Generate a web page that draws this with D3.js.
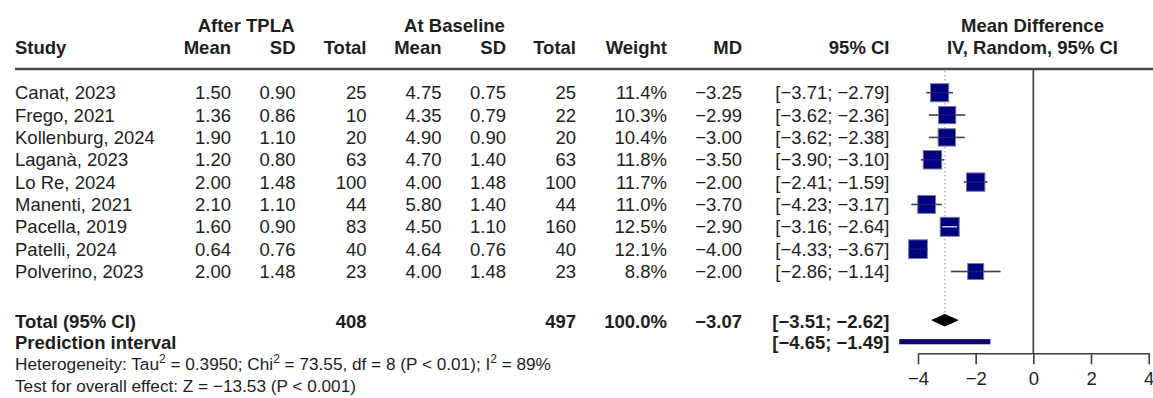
<!DOCTYPE html>
<html>
<head>
<meta charset="utf-8">
<script src="https://cdn.jsdelivr.net/npm/d3@7"></script>
<style>
  html, body { margin: 0; padding: 0; background: #fff; }
  svg { display: block; }
  text { font-family: "Liberation Sans", Arial, Helvetica, sans-serif; fill: #1e1e1e; }
</style>
</head>
<body>
<svg id="chart" width="1153" height="398"></svg>
<script>
// Study-level data
const studies = ["Canat, 2023", "Frego, 2021", "Kollenburg, 2024", "Laganà, 2023", "Lo Re, 2024",
                 "Manenti, 2021", "Pacella, 2019", "Patelli, 2024", "Polverino, 2023"];
const meanAfter = [1.50, 1.36, 1.90, 1.20, 2.00, 2.10, 1.60, 0.64, 2.00];
const sdAfter   = [0.90, 0.86, 1.10, 0.80, 1.48, 1.10, 0.90, 0.76, 1.48];
const nAfter    = [25, 10, 20, 63, 100, 44, 83, 40, 23];
const meanBase  = [4.75, 4.35, 4.90, 4.70, 4.00, 5.80, 4.50, 4.64, 4.00];
const sdBase    = [0.75, 0.79, 0.90, 1.40, 1.48, 1.40, 1.10, 0.76, 1.48];
const nBase     = [25, 22, 20, 63, 100, 44, 160, 40, 23];
const weights   = [11.4, 10.3, 10.4, 11.8, 11.7, 11.0, 12.5, 12.1, 8.8];
const md        = [-3.25, -2.99, -3.00, -3.50, -2.00, -3.70, -2.90, -4.00, -2.00];
const ciLow     = [-3.71, -3.62, -3.62, -3.90, -2.41, -4.23, -3.16, -4.33, -2.86];
const ciHigh    = [-2.79, -2.36, -2.38, -3.10, -1.59, -3.17, -2.64, -3.67, -1.14];

// Pooled random-effects results
const totalAfter = 408;
const totalBase = 497;
const totalWeight = 100.0;
const pooledMD = -3.07;
const pooledCI = [-3.51, -2.62];
const predInterval = [-4.65, -1.49];

const axisTicks = [-4, -2, 0, 2, 4];

const svg = d3.select("#chart");
const FS = 18.5;      // table font size
const FS_NOTE = 17.2; // footnote font size

const x = d3.scaleLinear().domain([-4, 4]).range([918, 1148.7]);
const rowY = d3.scaleLinear().domain([0, 1]).range([92.7, 115.05]);
const totalY = 321.7, predY = 342.5;
const headTop = 69, axisY = 353.3;

const f2 = d3.format(".2f");
const f1 = d3.format(".1f");
const ci = (a, b) => `[${f2(a)}; ${f2(b)}]`;

function txt(xp, yc, s, anchor = "end", bold = false, size = FS) {
  return svg.append("text")
    .attr("x", xp).attr("y", yc + size * 0.36)
    .attr("text-anchor", anchor)
    .attr("font-size", size)
    .attr("font-weight", bold ? "bold" : "normal")
    .text(s);
}

// Column right edges
const col = { study: 15, mA: 231, sA: 295.5, nA: 366.5, mB: 441.5, sB: 506, nB: 576,
              w: 667, md: 742, ci: 889.5 };

// Header
txt(246, 25, "After TPLA", "middle", true);
txt(454.5, 25, "At Baseline", "middle", true);
txt(1032.5, 25, "Mean Difference", "middle", true);
txt(col.study, 47, "Study", "start", true);
txt(col.mA, 47, "Mean", "end", true);
txt(col.sA, 47, "SD", "end", true);
txt(col.nA, 47, "Total", "end", true);
txt(col.mB, 47, "Mean", "end", true);
txt(col.sB, 47, "SD", "end", true);
txt(col.nB, 47, "Total", "end", true);
txt(col.w, 47, "Weight", "end", true);
txt(col.md, 47, "MD", "end", true);
txt(col.ci, 47, "95% CI", "end", true);
txt(1032.5, 47, "IV, Random, 95% CI", "middle", true);

svg.append("line")
  .attr("x1", 15).attr("x2", 1153).attr("y1", headTop).attr("y2", headTop)
  .attr("stroke", "#4a4a4a").attr("stroke-width", 2.4);

// Reference lines
svg.append("line")
  .attr("x1", x(0)).attr("x2", x(0)).attr("y1", headTop).attr("y2", axisY)
  .attr("stroke", "#3c3c3c").attr("stroke-width", 1.6);
svg.append("line")
  .attr("x1", x(pooledMD)).attr("x2", x(pooledMD)).attr("y1", headTop + 2).attr("y2", totalY - 6)
  .attr("stroke", "#a8a8a8").attr("stroke-width", 1.2).attr("stroke-dasharray", "1.5,2.5");

// Study rows
studies.forEach((s, i) => {
  const yc = rowY(i);
  txt(col.study, yc, s, "start");
  txt(col.mA, yc, f2(meanAfter[i]));
  txt(col.sA, yc, f2(sdAfter[i]));
  txt(col.nA, yc, nAfter[i]);
  txt(col.mB, yc, f2(meanBase[i]));
  txt(col.sB, yc, f2(sdBase[i]));
  txt(col.nB, yc, nBase[i]);
  txt(col.w, yc, f1(weights[i]) + "%");
  txt(col.md, yc, f2(md[i]).replace("-", "\u2212"));
  txt(col.ci, yc, ci(ciLow[i], ciHigh[i]).replace(/-/g, "\u2212"));
});

// Square side scales with sqrt(weight)
const side = d3.scaleSqrt().domain([0, 12.5]).range([0, 19]);
const marks = svg.append("g");
studies.forEach((s, i) => {
  const yc = rowY(i);
  const a = side(weights[i]);
  const inside = x(ciHigh[i]) - x(ciLow[i]) < a;
  if (!inside) {
    marks.append("line")
      .attr("x1", x(ciLow[i])).attr("x2", x(ciHigh[i])).attr("y1", yc).attr("y2", yc)
      .attr("stroke", "#555").attr("stroke-width", 1.5);
  }
  marks.append("rect")
    .attr("x", x(md[i]) - a / 2).attr("y", yc - a / 2)
    .attr("width", a).attr("height", a)
    .attr("fill", "#00007f").attr("stroke", "#7a7a9a").attr("stroke-width", 1);
  marks.append("line")
    .attr("x1", x(ciLow[i])).attr("x2", x(ciHigh[i])).attr("y1", yc).attr("y2", yc)
    .attr("stroke", inside ? "#ffffff" : "#333366").attr("stroke-width", 1.3)
    .attr("opacity", inside ? 0.9 : 0.55);
});

// Totals
txt(col.study, totalY, "Total (95% CI)", "start", true);
txt(col.nA, totalY, totalAfter, "end", true);
txt(col.nB, totalY, totalBase, "end", true);
txt(col.w, totalY, f1(totalWeight) + "%", "end", true);
txt(col.md, totalY, f2(pooledMD).replace("-", "\u2212"), "end", true);
txt(col.ci, totalY, ci(pooledCI[0], pooledCI[1]).replace(/-/g, "\u2212"), "end", true);
txt(col.study, predY, "Prediction interval", "start", true);
txt(col.ci, predY, ci(predInterval[0], predInterval[1]).replace(/-/g, "\u2212"), "end", true);

// Pooled diamond
const dh = 5.8;
svg.append("path")
  .attr("d", `M${x(pooledCI[0])},${totalY - 1.5} L${x(pooledMD)},${totalY - 1.5 - dh} L${x(pooledCI[1])},${totalY - 1.5} L${x(pooledMD)},${totalY - 1.5 + dh} Z`)
  .attr("fill", "#000").attr("stroke", "#000").attr("stroke-width", 1);

// Prediction interval bar
svg.append("rect")
  .attr("x", x(predInterval[0])).attr("y", predY - 0.8 - 2.6)
  .attr("width", x(predInterval[1]) - x(predInterval[0])).attr("height", 5.2)
  .attr("fill", "#0a0a6e");

// Footnotes: plain strings, and {exp: "2"} pieces drawn as superscripts
function footnote(yc, parts) {
  const t = svg.append("text")
    .attr("x", 15).attr("y", yc + FS_NOTE * 0.36)
    .attr("font-size", FS_NOTE);
  let shift = 0;
  parts.forEach(p => {
    if (typeof p === "object") {
      t.append("tspan").attr("font-size", 12).attr("dy", -7).text(p.exp);
      shift = 7;
    } else {
      t.append("tspan").attr("dy", shift).text(p);
      shift = 0;
    }
  });
}
footnote(364, ["Heterogeneity: Tau", { exp: "2" }, " = 0.3950; Chi", { exp: "2" },
               " = 73.55, df = 8 (P < 0.01); I", { exp: "2" }, " = 89%"]);
footnote(385.5, ["Test for overall effect: Z = \u221213.53 (P < 0.001)"]);

// Axis
const axis = d3.axisBottom(x).tickValues(axisTicks).tickSize(11).tickSizeOuter(0).tickPadding(8);
const gAxis = svg.append("g").attr("transform", `translate(0,${axisY})`).call(axis);
gAxis.select(".domain").attr("stroke", "#3c3c3c").attr("stroke-width", 1.6);
gAxis.selectAll(".tick line").attr("stroke", "#3c3c3c").attr("stroke-width", 1.6);
gAxis.selectAll(".tick text")
  .attr("font-size", FS)
  .attr("font-family", "'Liberation Sans', Arial, sans-serif")
  .attr("fill", "#1e1e1e");
</script>
</body>
</html>
